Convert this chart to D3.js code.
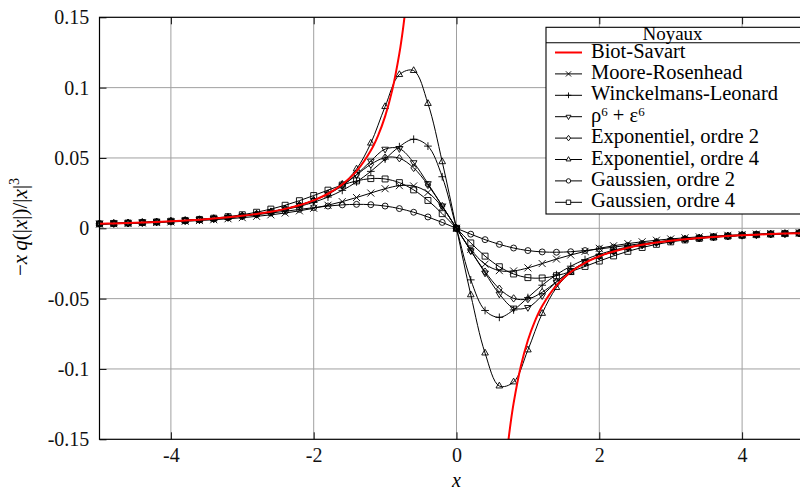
<!DOCTYPE html>
<html><head><meta charset="utf-8">
<script src="https://cdn.jsdelivr.net/npm/d3@7"></script>
<style>body{margin:0;background:#fff}svg{display:block}
text{font-family:"Liberation Serif","DejaVu Serif","Noto Serif",serif}</style>
</head><body><svg id="c" width="800" height="490"></svg>
<script>
// ---------- data ----------
const xs = [-5,-4.8,-4.6,-4.4,-4.2,-4,-3.8,-3.6,-3.4,-3.2,-3,-2.8,-2.6,-2.4,-2.2,-2,-1.8,-1.6,-1.4,-1.2,-1,-0.8,-0.6,-0.4,-0.2,
  0,0.2,0.4,0.6,0.8,1,1.2,1.4,1.6,1.8,2,2.2,2.4,2.6,2.8,3,3.2,3.4,3.6,3.8,4,4.2,4.4,4.6,4.8,5];

const mooreRosenhead = [0.00300,0.00324,0.00351,0.00381,0.00415,0.00454,0.00498,0.00549,0.00608,0.00676,0.00755,0.00848,0.00957,0.01087,0.01241,0.01424,0.01641,0.01896,0.02188,0.02506,0.02814,0.03031,0.03011,0.02548,0.01501,
  0,-0.01501,-0.02548,-0.03011,-0.03031,-0.02814,-0.02506,-0.02188,-0.01896,-0.01641,-0.01424,-0.01241,-0.01087,-0.00957,-0.00848,-0.00755,-0.00676,-0.00608,-0.00549,-0.00498,-0.00454,-0.00415,-0.00381,-0.00351,-0.00324,-0.00300];

const winckelmansLeonard = [0.00318,0.00344,0.00375,0.00409,0.00449,0.00494,0.00547,0.00608,0.00680,0.00766,0.00868,0.00992,0.01142,0.01328,0.01559,0.01851,0.02221,0.02694,0.03296,0.04046,0.04924,0.05804,0.06331,0.05842,0.03665,
  0,-0.03665,-0.05842,-0.06331,-0.05804,-0.04924,-0.04046,-0.03296,-0.02694,-0.02221,-0.01851,-0.01559,-0.01328,-0.01142,-0.00992,-0.00868,-0.00766,-0.00680,-0.00608,-0.00547,-0.00494,-0.00449,-0.00409,-0.00375,-0.00344,-0.00318];

const rho6eps6 = [0.00318,0.00345,0.00376,0.00411,0.00451,0.00497,0.00551,0.00614,0.00688,0.00777,0.00884,0.01014,0.01175,0.01378,0.01637,0.01974,0.02421,0.03020,0.03815,0.04783,0.05627,0.05667,0.04667,0.03177,0.01592,
  0,-0.01592,-0.03177,-0.04667,-0.05667,-0.05627,-0.04783,-0.03815,-0.03020,-0.02421,-0.01974,-0.01637,-0.01378,-0.01175,-0.01014,-0.00884,-0.00777,-0.00688,-0.00614,-0.00551,-0.00497,-0.00451,-0.00411,-0.00376,-0.00345,-0.00318];

const expOrdre2 = [0.00318,0.00345,0.00376,0.00411,0.00451,0.00497,0.00551,0.00614,0.00688,0.00777,0.00884,0.01015,0.01177,0.01382,0.01644,0.01989,0.02449,0.03057,0.03799,0.04545,0.05030,0.04982,0.04294,0.03083,0.01585,
  0,-0.01585,-0.03083,-0.04294,-0.04982,-0.05030,-0.04545,-0.03799,-0.03057,-0.02449,-0.01989,-0.01644,-0.01382,-0.01177,-0.01015,-0.00884,-0.00777,-0.00688,-0.00614,-0.00551,-0.00497,-0.00451,-0.00411,-0.00376,-0.00345,-0.00318];

const expOrdre4 = [0.00318,0.00345,0.00376,0.00411,0.00451,0.00497,0.00551,0.00614,0.00688,0.00777,0.00884,0.01015,0.01177,0.01382,0.01644,0.01990,0.02458,0.03132,0.04215,0.06052,0.08649,0.10925,0.11212,0.08869,0.04731,
  0,-0.04731,-0.08869,-0.11212,-0.10925,-0.08649,-0.06052,-0.04215,-0.03132,-0.02458,-0.01990,-0.01644,-0.01382,-0.01177,-0.01015,-0.00884,-0.00777,-0.00688,-0.00614,-0.00551,-0.00497,-0.00451,-0.00411,-0.00376,-0.00345,-0.00318];

const gaussOrdre2 = [0.00318,0.00345,0.00376,0.00411,0.00451,0.00497,0.00550,0.00611,0.00682,0.00764,0.00858,0.00965,0.01083,0.01210,0.01342,0.01469,0.01582,0.01665,0.01702,0.01679,0.01582,0.01402,0.01141,0.00807,0.00418,
  0,-0.00418,-0.00807,-0.01141,-0.01402,-0.01582,-0.01679,-0.01702,-0.01665,-0.01582,-0.01469,-0.01342,-0.01210,-0.01083,-0.00965,-0.00858,-0.00764,-0.00682,-0.00611,-0.00550,-0.00497,-0.00451,-0.00411,-0.00376,-0.00345,-0.00318];

const gaussOrdre4 = [0.00318,0.00346,0.00376,0.00412,0.00453,0.00501,0.00559,0.00629,0.00716,0.00825,0.00964,0.01141,0.01364,0.01638,0.01963,0.02329,0.02712,0.03077,0.03370,0.03533,0.03507,0.03247,0.02732,0.01979,0.01041,
  0,-0.01041,-0.01979,-0.02732,-0.03247,-0.03507,-0.03533,-0.03370,-0.03077,-0.02712,-0.02329,-0.01963,-0.01638,-0.01364,-0.01141,-0.00964,-0.00825,-0.00716,-0.00629,-0.00559,-0.00501,-0.00453,-0.00412,-0.00376,-0.00346,-0.00318];

// Biot-Savart (no markers), two branches
const bsXNeg = [-5,-4.8,-4.6,-4.4,-4.2,-4,-3.8,-3.6,-3.4,-3.2,-3,-2.8,-2.6,-2.4,-2.2,-2,-1.8,-1.6,-1.4,-1.2,-1.1,-1,-0.9,-0.8,-0.75,-0.7];
const bsYNeg = [0.00318,0.00345,0.00376,0.00411,0.00451,0.00497,0.00551,0.00614,0.00688,0.00777,0.00884,0.01015,0.01177,0.01382,0.01644,0.01989,0.02456,0.03108,0.04060,0.05526,0.06577,0.07958,0.09824,0.12434,0.14147,0.16240];
const bsXPos = [0.7,0.75,0.8,0.9,1,1.1,1.2,1.4,1.6,1.8,2,2.2,2.4,2.6,2.8,3,3.2,3.4,3.6,3.8,4,4.2,4.4,4.6,4.8,5];
const bsYPos = [-0.16240,-0.14147,-0.12434,-0.09824,-0.07958,-0.06577,-0.05526,-0.04060,-0.03108,-0.02456,-0.01989,-0.01644,-0.01382,-0.01177,-0.01015,-0.00884,-0.00777,-0.00688,-0.00614,-0.00551,-0.00497,-0.00451,-0.00411,-0.00376,-0.00345,-0.00318];

const seriesNames = ["Moore-Rosenhead","Winckelmans-Leonard","rho","Exponentiel, ordre 2","Exponentiel, ordre 4","Gaussien, ordre 2","Gaussien, ordre 4"];
const seriesMarks = ["times","plus","tridown","diamond","triangle","circle","square"];
const seriesValues = [mooreRosenhead,winckelmansLeonard,rho6eps6,expOrdre2,expOrdre4,gaussOrdre2,gaussOrdre4];

const xTicks = [-4,-2,0,2,4];
const xTickLabels = ["-4","-2","0","2","4"];
const yTicks = [-0.15,-0.1,-0.05,0,0.05,0.1,0.15];
const yTickLabels = ["-0.15","-0.1","-0.05","0","0.05","0.1","0.15"];

// ---------- chart ----------
const svg = d3.select("#c");
const L = 99.5, R = 813.5, T = 17.3, B = 439.3;
const x = d3.scaleLinear().domain([-5,5]).range([L,R]);
const y = d3.scaleLinear().domain([-0.15,0.15]).range([B,T]);

svg.append("rect").attr("width",800).attr("height",490).attr("fill","#fff");

svg.append("defs").append("clipPath").attr("id","clip")
  .append("rect").attr("x",L).attr("y",T).attr("width",R-L).attr("height",B-T);

// grid
const grid = svg.append("g").attr("stroke","#a0a0a0").attr("stroke-width",1);
grid.selectAll(".gx").data(xTicks).join("line")
  .attr("x1",d=>x(d)).attr("x2",d=>x(d)).attr("y1",T).attr("y2",B);
grid.selectAll(".gy").data(yTicks.slice(1,-1)).join("line")
  .attr("y1",d=>y(d)).attr("y2",d=>y(d)).attr("x1",L).attr("x2",R);

// axes (inner ticks)
const xAxis = d3.axisBottom(x).tickValues(xTicks).tickFormat((d,i)=>xTickLabels[i])
  .tickSizeInner(-7).tickSizeOuter(0).tickPadding(8.8);
const gx = svg.append("g").attr("transform",`translate(0,${B})`).call(xAxis);
gx.attr("font-family",null);
gx.select(".domain").remove();
gx.selectAll("text").attr("font-size",20).attr("fill","#111");
gx.selectAll("line").attr("stroke","#111");

const xAxisTop = d3.axisTop(x).tickValues(xTicks).tickFormat("").tickSizeInner(-7).tickSizeOuter(0);
const gxt = svg.append("g").attr("transform",`translate(0,${T})`).call(xAxisTop);
gxt.select(".domain").remove();
gxt.selectAll("line").attr("stroke","#111");

const yAxis = d3.axisLeft(y).tickValues(yTicks).tickFormat((d,i)=>yTickLabels[i])
  .tickSizeInner(-7).tickSizeOuter(0).tickPadding(10.2);
const gy = svg.append("g").attr("transform",`translate(${L},0)`).call(yAxis);
gy.attr("font-family",null);
gy.select(".domain").remove();
gy.selectAll("text").attr("font-size",20).attr("fill","#111");
gy.selectAll("line").attr("stroke","#111");

// markers
function markPath(type, s){
  switch(type){
    case "times": return `M${-s},${-s}L${s},${s}M${-s},${s}L${s},${-s}`;
    case "plus": return `M${-s*1.1},0H${s*1.1}M0,${-s*1.1}V${s*1.1}`;
    case "triangle": return `M0,${-s*1.1}L${s*0.95},${s*0.55}L${-s*0.95},${s*0.55}Z`;
    case "tridown": return `M0,${s*1.1}L${s*0.95},${-s*0.55}L${-s*0.95},${-s*0.55}Z`;
    case "diamond": return `M0,${-s*1.05}L${s*0.8},0L0,${s*1.05}L${-s*0.8},0Z`;
    case "circle": return `M${s*0.85},0A${s*0.85},${s*0.85} 0 1,1 ${-s*0.85},0A${s*0.85},${s*0.85} 0 1,1 ${s*0.85},0Z`;
    case "square": return `M${-s*0.85},${-s*0.85}H${s*0.85}V${s*0.85}H${-s*0.85}Z`;
  }
}

const line = d3.line().x(d=>x(d[0])).y(d=>y(d[1])).curve(d3.curveCatmullRom.alpha(0.5));
const plot = svg.append("g");
seriesValues.forEach((vals,k)=>{
  const pts = xs.map((xv,i)=>[xv,vals[i]]);
  plot.append("path").attr("clip-path","url(#clip)").attr("d",line(pts))
    .attr("fill","none").attr("stroke","#000").attr("stroke-width",1);
  plot.append("g").selectAll("path").data(pts).join("path")
    .attr("transform",d=>`translate(${x(d[0])},${y(d[1])})`)
    .attr("d",markPath(seriesMarks[k],3.5))
    .attr("fill","none").attr("stroke","#000").attr("stroke-width",0.9);
});

// Biot-Savart
[[bsXNeg,bsYNeg],[bsXPos,bsYPos]].forEach(([bx,by])=>{
  const pts = bx.map((xv,i)=>[xv,by[i]]);
  plot.append("path").attr("clip-path","url(#clip)").attr("d",line(pts))
    .attr("fill","none").attr("stroke","#ff0000").attr("stroke-width",2);
});

// frame
svg.append("rect").attr("x",L).attr("y",T).attr("width",R-L).attr("height",B-T)
  .attr("fill","none").attr("stroke","#000").attr("stroke-width",1.2);

// axis titles
svg.append("text").attr("x",x(0)).attr("y",487).attr("text-anchor","middle")
  .attr("font-size",20).attr("font-style","italic").text("x");

const yl = svg.append("text").attr("transform","translate(26.5,227) rotate(-90)")
  .attr("text-anchor","middle").attr("font-size",21);
[["\u2212",0],["x",1],["\u2009",0],["q",1],["(|",0],["x",1],["|)/|",0],["x",1],["|",0]].forEach(([t,it])=>{
  yl.append("tspan").attr("font-style",it?"italic":"normal").text(t);
});
yl.append("tspan").attr("font-size",14).attr("dy",-8).text("3");

// legend
const lg = svg.append("g");
const LX = 546, LT = 27.3, LH = 42.7, LB = 214;
lg.append("rect").attr("x",LX).attr("y",LT).attr("width",260).attr("height",LB-LT)
  .attr("fill","#fff").attr("stroke","#000").attr("stroke-width",1.1);
lg.append("line").attr("x1",LX).attr("x2",806).attr("y1",LH).attr("y2",LH).attr("stroke","#000").attr("stroke-width",1.1);
lg.append("text").attr("x",672.5).attr("y",39.5).attr("text-anchor","middle")
  .attr("font-size",19).text("Noyaux");

const legendRows = ["Biot-Savart"].concat(seriesNames);
legendRows.forEach((name,i)=>{
  const by = 57.5 + i*21.4;
  const cy = by - 5;
  const isBS = i===0;
  lg.append("line").attr("x1",555).attr("x2",582).attr("y1",cy).attr("y2",cy)
    .attr("stroke",isBS?"#ff0000":"#000").attr("stroke-width",isBS?2:1);
  if(!isBS){
    lg.append("path").attr("transform",`translate(568.5,${cy})`).attr("d",markPath(seriesMarks[i-1],2.6))
      .attr("fill","#fff").attr("stroke","#000").attr("stroke-width",0.9);
  }
  const t = lg.append("text").attr("x",591).attr("y",by).attr("font-size",20.5);
  if(name==="rho"){
    t.append("tspan").text("\u03c1");
    t.append("tspan").attr("font-size",13).attr("dy",-6).text("6");
    t.append("tspan").attr("dy",6).text(" + \u03b5");
    t.append("tspan").attr("font-size",13).attr("dy",-6).text("6");
  } else {
    t.text(name);
  }
});
</script></body></html>
